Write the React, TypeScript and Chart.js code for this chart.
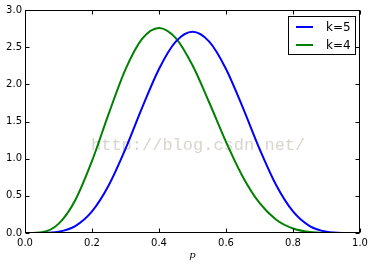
import React, { useEffect, useRef } from "react";
import { Chart, registerables } from "chart.js";

Chart.register(...registerables);

const xValues = [0, 0.05, 0.1, 0.15, 0.2, 0.25, 0.3, 0.35, 0.4, 0.45, 0.5, 0.55, 0.6, 0.65, 0.7, 0.75, 0.8, 0.85, 0.9, 0.95, 1.0];
const k5Values = [0, 0.0007, 0.0164, 0.0934, 0.2907, 0.6424, 1.1321, 1.6893, 2.2073, 2.5743, 2.707, 2.5743, 2.2073, 1.6893, 1.1321, 0.6424, 0.2907, 0.0934, 0.0164, 0.0007, 0];
const k4Values = [0, 0.0106, 0.1228, 0.4411, 0.9689, 1.606, 2.2013, 2.6143, 2.759, 2.622, 2.2559, 1.7553, 1.2262, 0.758, 0.4043, 0.1784, 0.0606, 0.0137, 0.0015, 0.0001, 0];
const seriesLabels = ["k=5", "k=4"];
const seriesColors = ["#0000ff", "#008000"];
const xTicks = [0, 0.2, 0.4, 0.6, 0.8, 1.0];
const yTicks = [0, 0.5, 1.0, 1.5, 2.0, 2.5, 3.0];
const xAxisLabel = "p";
const watermark = "http://blog.csdn.net/";

const framePlugin = {
  id: "frame",
  beforeDatasetsDraw(chart: any) {
    const { ctx } = chart;
    ctx.save();
    ctx.font = "17px 'Liberation Mono'";
    ctx.fillStyle = "rgba(200,195,185,0.7)";
    ctx.textBaseline = "middle";
    ctx.textAlign = "left";
    ctx.fillText(watermark, 91, 145);
    ctx.restore();
  },
  afterDatasetsDraw(chart: any) {
    const { ctx, chartArea: a, scales } = chart;
    ctx.save();
    ctx.strokeStyle = "#000";
    ctx.lineWidth = 1;
    const L = Math.round(a.left) + 0.5, R = Math.round(a.right) - 0.5;
    const T = Math.round(a.top) + 0.5, B = Math.round(a.bottom) - 0.5;
    ctx.strokeRect(L, T, R - L, B - T);
    ctx.beginPath();
    for (const v of xTicks) {
      const x = Math.round(scales.x.getPixelForValue(v)) + 0.5;
      ctx.moveTo(x, B); ctx.lineTo(x, B - 4);
      ctx.moveTo(x, T); ctx.lineTo(x, T + 4);
    }
    for (const v of yTicks) {
      const y = Math.round(scales.y.getPixelForValue(v)) + 0.5;
      ctx.moveTo(L, y); ctx.lineTo(L + 4, y);
      ctx.moveTo(R, y); ctx.lineTo(R - 4, y);
    }
    ctx.stroke();

    // legend
    const lx = 288.5, ly = 16.5, lw = 67, lh = 38;
    ctx.fillStyle = "#fff";
    ctx.fillRect(lx, ly, lw, lh);
    ctx.strokeRect(lx, ly, lw, lh);
    chart.data.datasets.forEach((ds: any, i: number) => {
      const y = 27 + i * 18;
      ctx.strokeStyle = ds.borderColor;
      ctx.lineWidth = 2;
      ctx.beginPath();
      ctx.moveTo(296, y); ctx.lineTo(313, y);
      ctx.stroke();
      ctx.fillStyle = "#000";
      ctx.font = "12px 'DejaVu Sans'";
      ctx.textBaseline = "middle";
      ctx.textAlign = "left";
      ctx.fillText(ds.label, 326, y + 0.5);
    });

    // x label
    ctx.fillStyle = "#000";
    ctx.font = "italic 10px 'DejaVu Serif'";
    ctx.textAlign = "center";
    ctx.textBaseline = "middle";
    ctx.fillText(xAxisLabel, (a.left + a.right) / 2, 255);
    ctx.restore();
  },
};

export default function App() {
  const ref = useRef<HTMLCanvasElement>(null);
  useEffect(() => {
    document.body.style.margin = "0";
    const chart = new Chart(ref.current!, {
      type: "line",
      data: {
        datasets: [
          { label: seriesLabels[0], data: xValues.map((x, i) => ({ x, y: k5Values[i] })), borderColor: seriesColors[0], borderWidth: 2, pointRadius: 0, cubicInterpolationMode: "monotone", fill: false },
          { label: seriesLabels[1], data: xValues.map((x, i) => ({ x, y: k4Values[i] })), borderColor: seriesColors[1], borderWidth: 2, pointRadius: 0, cubicInterpolationMode: "monotone", fill: false },
        ],
      },
      options: {
        animation: false,
        responsive: false,
        maintainAspectRatio: false,
        layout: { padding: { top: 10, right: 14, left: 0, bottom: 0 } },
        plugins: { legend: { display: false }, tooltip: { enabled: false } },
        scales: {
          x: {
            type: "linear", min: 0, max: 1,
            afterFit: (s: any) => { s.height = 36; },
            afterBuildTicks: (s: any) => { s.ticks = xTicks.map((v) => ({ value: v })); },
            grid: { display: false, drawTicks: false, tickLength: 0 },
            border: { display: false },
            ticks: { color: "#000", padding: 4, font: { family: "DejaVu Sans", size: 10 }, maxRotation: 0, callback: (v: any) => Number(v).toFixed(1) },
          },
          y: {
            type: "linear", min: 0, max: 3,
            afterFit: (s: any) => { s.width = 25; },
            afterBuildTicks: (s: any) => { s.ticks = yTicks.map((v) => ({ value: v })); },
            grid: { display: false, drawTicks: false, tickLength: 0 },
            border: { display: false },
            ticks: { color: "#000", padding: 3, font: { family: "DejaVu Sans", size: 10 }, callback: (v: any) => Number(v).toFixed(1) },
          },
        },
      },
      plugins: [framePlugin],
    });
    return () => chart.destroy();
  }, []);
  return (
    <div style={{ width: 374, height: 269, background: "#fff" }}>
      <canvas ref={ref} width={374} height={269} style={{ display: "block" }} />
    </div>
  );
}
